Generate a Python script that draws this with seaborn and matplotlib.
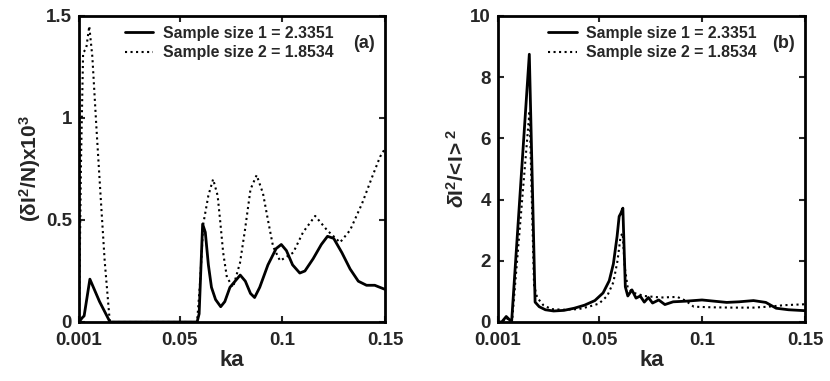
import numpy as np
import pandas as pd
import seaborn as sns
import matplotlib
matplotlib.use("Agg")
import matplotlib.pyplot as plt

# Panel (a): (dI^2/N) x 10^3 vs ka
ka_a1 = [0.001, 0.0025, 0.0035, 0.0063, 0.0110, 0.0161, 0.0585, 0.0595, 0.0605, 0.0612,
         0.0625, 0.0640, 0.0655, 0.0675, 0.0700, 0.0720, 0.0745, 0.0770, 0.0795, 0.0820,
         0.0845, 0.0865, 0.0890, 0.0930, 0.0970, 0.0995, 0.1020, 0.1050, 0.1085, 0.1110,
         0.1150, 0.1190, 0.1220, 0.1250, 0.1290, 0.1330, 0.1370, 0.1410, 0.1450, 0.1500]
val_a1 = [0.0, 0.02, 0.03, 0.21, 0.10, 0.0, 0.0, 0.04, 0.30, 0.48,
          0.44, 0.28, 0.17, 0.11, 0.075, 0.10, 0.17, 0.20, 0.23, 0.20,
          0.14, 0.12, 0.17, 0.28, 0.36, 0.38, 0.35, 0.28, 0.24, 0.25,
          0.31, 0.38, 0.42, 0.41, 0.34, 0.26, 0.20, 0.18, 0.18, 0.16]

ka_a2 = [0.001, 0.0020, 0.0030, 0.0045, 0.0060, 0.0075, 0.0095, 0.0115, 0.0135, 0.0160,
         0.0585, 0.0600, 0.0615, 0.0640, 0.0663, 0.0685, 0.0697, 0.0712, 0.0730, 0.0760,
         0.0794, 0.0818, 0.0845, 0.0875, 0.0906, 0.0930, 0.0955, 0.0989, 0.1053, 0.1101,
         0.1160, 0.1218, 0.1281, 0.1330, 0.1388, 0.1437, 0.1476, 0.1500]
val_a2 = [0.0, 0.8, 1.32, 1.34, 1.45, 1.30, 0.95, 0.62, 0.30, 0.0,
          0.0, 0.20, 0.48, 0.62, 0.70, 0.62, 0.50, 0.34, 0.22, 0.17,
          0.29, 0.45, 0.65, 0.72, 0.63, 0.50, 0.37, 0.30, 0.34, 0.44,
          0.52, 0.45, 0.39, 0.45, 0.58, 0.71, 0.81, 0.85]

# Panel (b): dI^2/<I>^2 vs ka
ka_b1 = [0.001, 0.0028, 0.0050, 0.0062, 0.0076, 0.0162, 0.0190, 0.0210, 0.0240, 0.0280,
         0.0330, 0.0380, 0.0430, 0.0480, 0.0520, 0.0550, 0.0570, 0.0588, 0.0598, 0.0606,
         0.0616, 0.0624, 0.0628, 0.0640, 0.0660, 0.0680, 0.0700, 0.0720, 0.0740, 0.0760,
         0.0790, 0.0820, 0.0860, 0.0920, 0.1000, 0.1060, 0.1120, 0.1180, 0.1250, 0.1310,
         0.1360, 0.1420, 0.1500]
val_b1 = [0.0, 0.0, 0.18, 0.10, 0.0, 8.75, 0.65, 0.50, 0.40, 0.36,
          0.38, 0.45, 0.55, 0.70, 0.95, 1.35, 1.90, 2.80, 3.45, 3.55,
          3.72, 2.0, 1.15, 0.85, 1.05, 0.78, 0.85, 0.65, 0.80, 0.62,
          0.72, 0.57, 0.66, 0.68, 0.72, 0.68, 0.64, 0.66, 0.70, 0.64,
          0.45, 0.40, 0.37]

ka_b2 = [0.001, 0.0030, 0.0050, 0.0062, 0.0078, 0.0163, 0.0185, 0.0200, 0.0230, 0.0270,
         0.0330, 0.0400, 0.0450, 0.0500, 0.0540, 0.0570, 0.0590, 0.0605, 0.0615, 0.0625,
         0.0640, 0.0670, 0.0720, 0.0800, 0.0880, 0.0920, 0.0960, 0.1050, 0.1150, 0.1250,
         0.1320, 0.1400, 0.1500]
val_b2 = [0.0, 0.0, 0.15, 0.05, 0.0, 6.9, 1.2, 0.8, 0.55, 0.42,
          0.40, 0.42, 0.50, 0.60, 0.85, 1.30, 2.00, 2.80, 2.90, 1.80,
          1.10, 0.95, 0.85, 0.80, 0.82, 0.70, 0.50, 0.48, 0.47, 0.47,
          0.50, 0.55, 0.58]

labels = ["Sample size 1 = 2.3351", "Sample size 2 = 1.8534"]
xticks = [0.001, 0.05, 0.1, 0.15]
xticklabels = ["0.001", "0.05", "0.1", "0.15"]

sns.set_style("ticks")
plt.rcParams["font.family"] = ["Liberation Sans", "DejaVu Sans"]
plt.rcParams["font.weight"] = "bold"
plt.rcParams["mathtext.fontset"] = "custom"
plt.rcParams["mathtext.rm"] = "Liberation Sans"
plt.rcParams["mathtext.bf"] = "Liberation Sans:bold"
plt.rcParams["mathtext.it"] = "Liberation Sans:italic"

fig = plt.figure(figsize=(8.3, 3.81), dpi=100)
ax_a = fig.add_axes([79 / 830, 59 / 381, 306 / 830, 306 / 381])
ax_b = fig.add_axes([498 / 830, 59 / 381, 307 / 830, 306 / 381])

panels = [
    (ax_a, ka_a1, val_a1, ka_a2, val_a2, (0, 1.5), [0, 0.5, 1, 1.5], ["0", "0.5", "1", "1.5"],
     r"$\mathbf{(\delta I^2/N)x10^3}$", "(a)", 0.119),
    (ax_b, ka_b1, val_b1, ka_b2, val_b2, (0, 10), [0, 2, 4, 6, 8, 10],
     ["0", "2", "4", "6", "8", "10"], r"$\delta\mathbf{I^2/\!<\!I\!>^2}$", "(b)", 0.132),
]

for ax, x1, y1, x2, y2, ylim, yt, ytl, ylab, tag, lx in panels:
    sns.lineplot(x=x1, y=y1, ax=ax, color="black", lw=2.0, sort=False,
                 estimator=None, label=labels[0])
    sns.lineplot(x=x2, y=y2, ax=ax, color="black", lw=1.5, linestyle=":", sort=False,
                 estimator=None, label=labels[1])
    ax.set_xlim(0.001, 0.15)
    ax.set_ylim(*ylim)
    ax.set_xticks(xticks)
    ax.set_xticklabels(xticklabels)
    ax.set_yticks(yt)
    ax.set_yticklabels(ytl)
    ax.tick_params(direction="in", top=True, right=True, length=4, width=1.5,
                   labelsize=13.5)
    ax.tick_params(axis="x", pad=7)
    ax.tick_params(axis="y", pad=5)
    for s in ax.spines.values():
        s.set_linewidth(2)
        s.set_color("black")
    ax.set_xlabel("ka", fontsize=16, fontweight="bold", labelpad=1)
    ax.set_ylabel(ylab, fontsize=15, fontweight="bold", labelpad=2)
    ax.legend(loc="upper left", bbox_to_anchor=(lx, 1.0), frameon=False,
              fontsize=11.4, handlelength=1.8, handletextpad=0.6, labelspacing=0.3,
              borderaxespad=0.2, borderpad=0.4)
    ax.text(0.93, 0.91, tag, transform=ax.transAxes, ha="center", va="center",
            fontsize=13, fontweight="bold")

fig.savefig("out.png", dpi=100)
